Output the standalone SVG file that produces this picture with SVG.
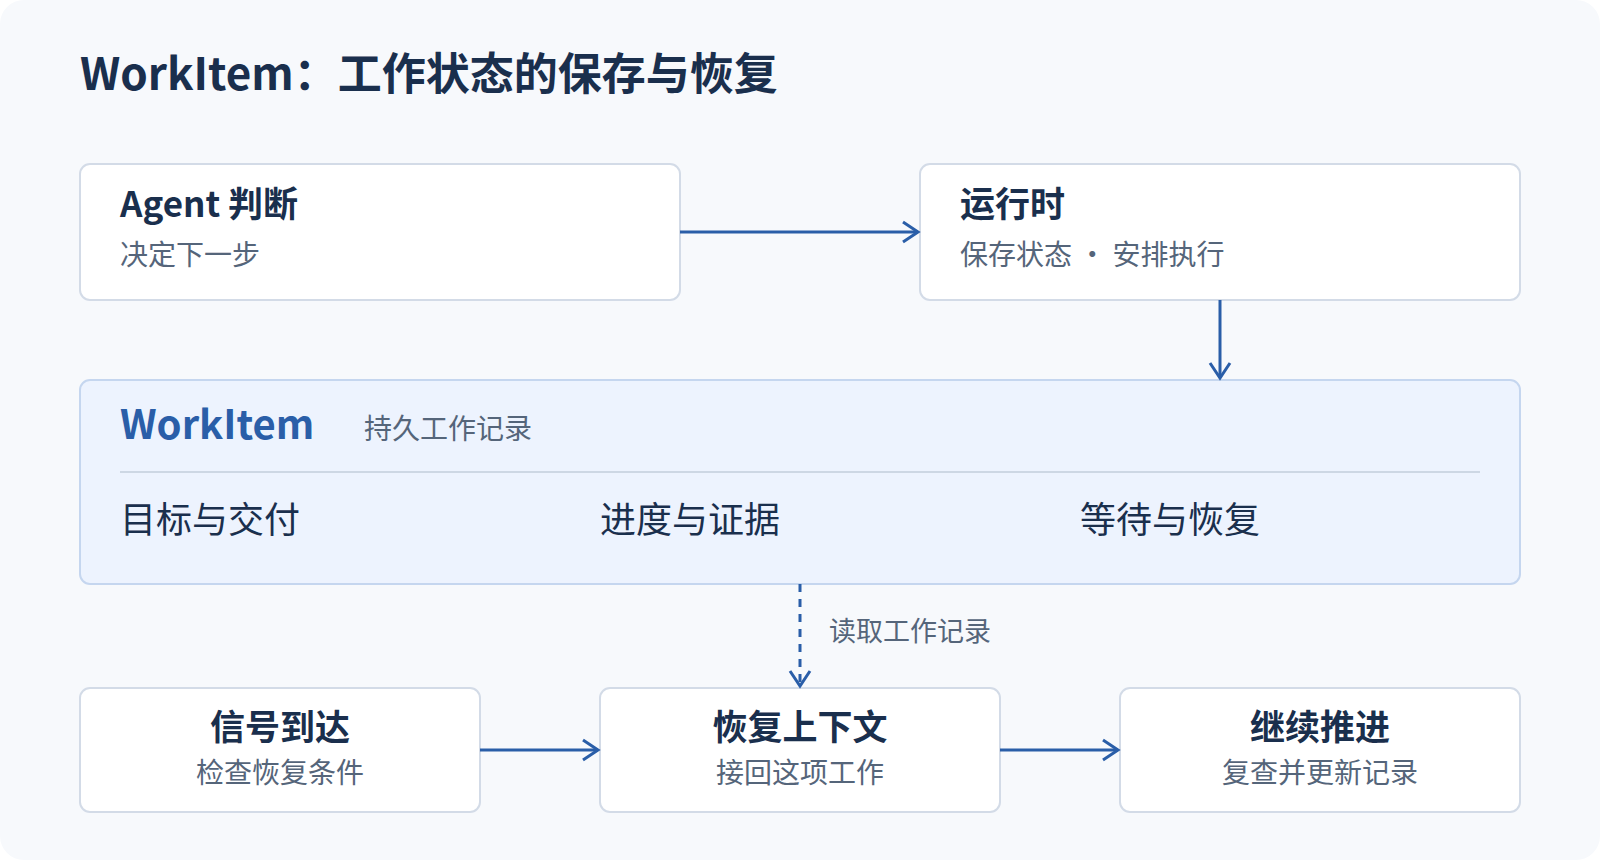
<svg xmlns="http://www.w3.org/2000/svg" width="1600" height="860" viewBox="0 0 1600 860">
<style>
text{font-family:"Noto Sans CJK SC","Noto Sans",sans-serif}
.box{fill:#fff;stroke:#d3dbe7;stroke-width:2}
.t{font-size:35px;font-weight:700;fill:#1a2f4d}
.s{font-size:28px;fill:#55657a}
.c{stroke:#2a5ea8;stroke-width:3;fill:none}
</style>
<defs><marker id="a" markerWidth="20" markerHeight="24" refX="17" refY="12" orient="auto" markerUnits="userSpaceOnUse"><path d="M2 2L17 12L2 22" fill="none" stroke="#2a5ea8" stroke-width="3"/></marker></defs>
<rect x="0" y="0" width="1600" height="860" rx="24" fill="#f7f9fc"/>
<text x="80" y="90" font-size="44" font-weight="700" fill="#1a2f4d">WorkItem：工作状态的保存与恢复</text>
<g id="agent"><rect class="box" x="80" y="164" width="600" height="136" rx="10"/><text class="t" x="120" y="217">Agent 判断</text><text class="s" x="120" y="265">决定下一步</text></g>
<g id="runtime"><rect class="box" x="920" y="164" width="600" height="136" rx="10"/><text class="t" x="960" y="217">运行时</text><text class="s" x="960" y="265">保存状态 · 安排执行</text></g>
<g id="workitem"><rect x="80" y="380" width="1440" height="204" rx="10" fill="#edf3fe" stroke="#c5d6ef" stroke-width="2"/>
<text x="120" y="439" font-size="40" font-weight="700" fill="#2a5ea8">WorkItem</text><text class="s" x="364" y="439" font-size="30">持久工作记录</text>
<line x1="120" y1="472" x2="1480" y2="472" stroke="#cdd7e4" stroke-width="2"/>
<text x="120" y="533" font-size="36" fill="#1a2f4d">目标与交付</text><text x="600" y="533" font-size="36" fill="#1a2f4d">进度与证据</text><text x="1080" y="533" font-size="36" fill="#1a2f4d">等待与恢复</text></g>
<g id="signal"><rect class="box" x="80" y="688" width="400" height="124" rx="10"/><text class="t" x="280" y="740" text-anchor="middle">信号到达</text><text class="s" x="280" y="783" text-anchor="middle">检查恢复条件</text></g>
<g id="restore"><rect class="box" x="600" y="688" width="400" height="124" rx="10"/><text class="t" x="800" y="740" text-anchor="middle">恢复上下文</text><text class="s" x="800" y="783" text-anchor="middle">接回这项工作</text></g>
<g id="continue"><rect class="box" x="1120" y="688" width="400" height="124" rx="10"/><text class="t" x="1320" y="740" text-anchor="middle">继续推进</text><text class="s" x="1320" y="783" text-anchor="middle">复查并更新记录</text></g>
<g id="connectors">
<line class="c" x1="680" y1="232" x2="918" y2="232" marker-end="url(#a)"/>
<line class="c" x1="1220" y1="300" x2="1220" y2="378" marker-end="url(#a)"/>
<line class="c" x1="800" y1="584" x2="800" y2="686" stroke-dasharray="8 7" stroke-width="2.5" marker-end="url(#a)"/>
<line class="c" x1="480" y1="750" x2="598" y2="750" marker-end="url(#a)"/>
<line class="c" x1="1000" y1="750" x2="1118" y2="750" marker-end="url(#a)"/>
<text x="829" y="641" font-size="27" fill="#55657a">读取工作记录</text>
</g>
</svg>
